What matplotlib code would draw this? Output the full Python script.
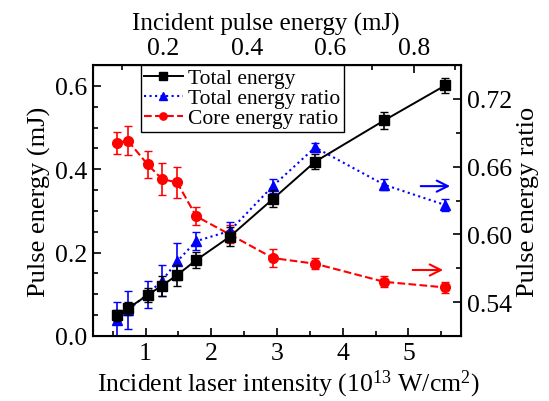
import matplotlib
matplotlib.use('Agg')
import matplotlib.pyplot as plt
from matplotlib.ticker import MultipleLocator

plt.rcParams['font.family'] = ['Liberation Serif', 'DejaVu Serif']
plt.rcParams['mathtext.fontset'] = 'custom'
plt.rcParams['mathtext.rm'] = 'Liberation Serif'
plt.rcParams['mathtext.it'] = 'Liberation Serif:italic'

# data
intensity = [0.57, 0.73, 1.03, 1.25, 1.48, 1.77, 2.28, 2.94, 3.58, 4.63, 5.56]
total_energy = [0.050, 0.066, 0.098, 0.121, 0.146, 0.182, 0.238, 0.329, 0.418, 0.517, 0.601]
total_energy_err = [0.013, 0.015, 0.016, 0.024, 0.025, 0.019, 0.023, 0.020, 0.018, 0.020, 0.019]
total_ratio = [0.524, 0.533, 0.547, 0.559, 0.576, 0.594, 0.603, 0.643, 0.677, 0.644, 0.626]
total_ratio_err = [0.016, 0.017, 0.012, 0.014, 0.016, 0.008, 0.008, 0.006, 0.004, 0.005, 0.005]
core_ratio = [0.681, 0.683, 0.662, 0.649, 0.646, 0.616, 0.600, 0.579, 0.574, 0.558, 0.553]
core_ratio_err = [0.010, 0.013, 0.012, 0.014, 0.014, 0.008, 0.008, 0.008, 0.005, 0.005, 0.005]
k_int = 6.35  # intensity (1e13 W/cm2) per mJ

fig = plt.figure(figsize=(5.49, 4.02), dpi=100)
ax = fig.add_axes([0.1694, 0.1617, 0.6703, 0.6741])
ax2 = ax.twinx()
ax.set_zorder(ax2.get_zorder() + 1)
ax.patch.set_visible(False)

# right axis series
l3, = ax2.plot(intensity, core_ratio, '--o', color='red', lw=1.5, ms=7)
ax2.errorbar(intensity, core_ratio, yerr=core_ratio_err, fmt='none', ecolor='red', elinewidth=1.2, capsize=3)
l2, = ax2.plot(intensity, total_ratio, ':^', color='blue', lw=1.5, ms=7.5)
ax2.errorbar(intensity, total_ratio, yerr=total_ratio_err, fmt='none', ecolor='blue', elinewidth=1.2, capsize=3)

# left axis series
l1, = ax.plot(intensity, total_energy, '-s', color='black', lw=1.4, ms=7)
ax.errorbar(intensity, total_energy, yerr=total_energy_err, fmt='none', ecolor='black', elinewidth=1.2, capsize=3)

ax.set_xlim(0.2, 5.8)
ax.set_ylim(0, 0.65)
ax2.set_ylim(0.51, 0.75)

ax.xaxis.set_major_locator(MultipleLocator(1))
ax.xaxis.set_minor_locator(MultipleLocator(0.5))
ax.yaxis.set_major_locator(MultipleLocator(0.2))
ax.yaxis.set_minor_locator(MultipleLocator(0.05))
ax2.yaxis.set_major_locator(MultipleLocator(0.06))
ax2.yaxis.set_minor_locator(MultipleLocator(0.03))
ax.yaxis.set_major_formatter(plt.FormatStrFormatter('%.1f'))
ax2.yaxis.set_major_formatter(plt.FormatStrFormatter('%.2f'))

top = ax.secondary_xaxis('top', functions=(lambda x: x / k_int, lambda e: e * k_int))
top.xaxis.set_major_locator(MultipleLocator(0.2))
top.xaxis.set_minor_locator(MultipleLocator(0.1))
top.set_xlabel('Incident pulse energy (mJ)', fontsize=18, labelpad=6)
top.xaxis.label.set_x(0.47)

for a in (ax, ax2, top):
    a.tick_params(which='both', direction='in', labelsize=18.5, width=1.2, pad=4)
    a.tick_params(which='major', length=6)
    a.tick_params(which='minor', length=3.5)
ax.tick_params(axis='both', which='both', top=False, right=False)
for sp in ax.spines.values():
    sp.set_linewidth(1.5)

ax.set_xlabel('Incident laser intensity (10$^{13}$ W/cm$^{2}$)', fontsize=18.5, labelpad=0)
ax.xaxis.set_label_coords(0.53, -0.115)
ax.set_ylabel('Pulse energy (mJ)', fontsize=19, labelpad=3)
ax2.set_ylabel('Pulse energy ratio', fontsize=19, labelpad=4)

ax.legend([l1, l2, l3], ['Total energy', 'Total energy ratio', 'Core energy ratio'],
          loc='upper left', bbox_to_anchor=(0.13, 1.0), fontsize=15.5, frameon=True,
          fancybox=False, edgecolor='black', framealpha=1, borderpad=0.15,
          handlelength=1.8, handletextpad=0.25, labelspacing=0.0, borderaxespad=0,
          markerscale=0.75)

ax.annotate('', xy=(0.978, 0.553), xytext=(0.883, 0.553), xycoords='axes fraction',
            arrowprops=dict(arrowstyle='->', color='blue', lw=1.5, mutation_scale=20))
ax.annotate('', xy=(0.959, 0.2435), xytext=(0.861, 0.2435), xycoords='axes fraction',
            arrowprops=dict(arrowstyle='->', color='red', lw=1.5, mutation_scale=20))

fig.savefig('out.png', dpi=100)
